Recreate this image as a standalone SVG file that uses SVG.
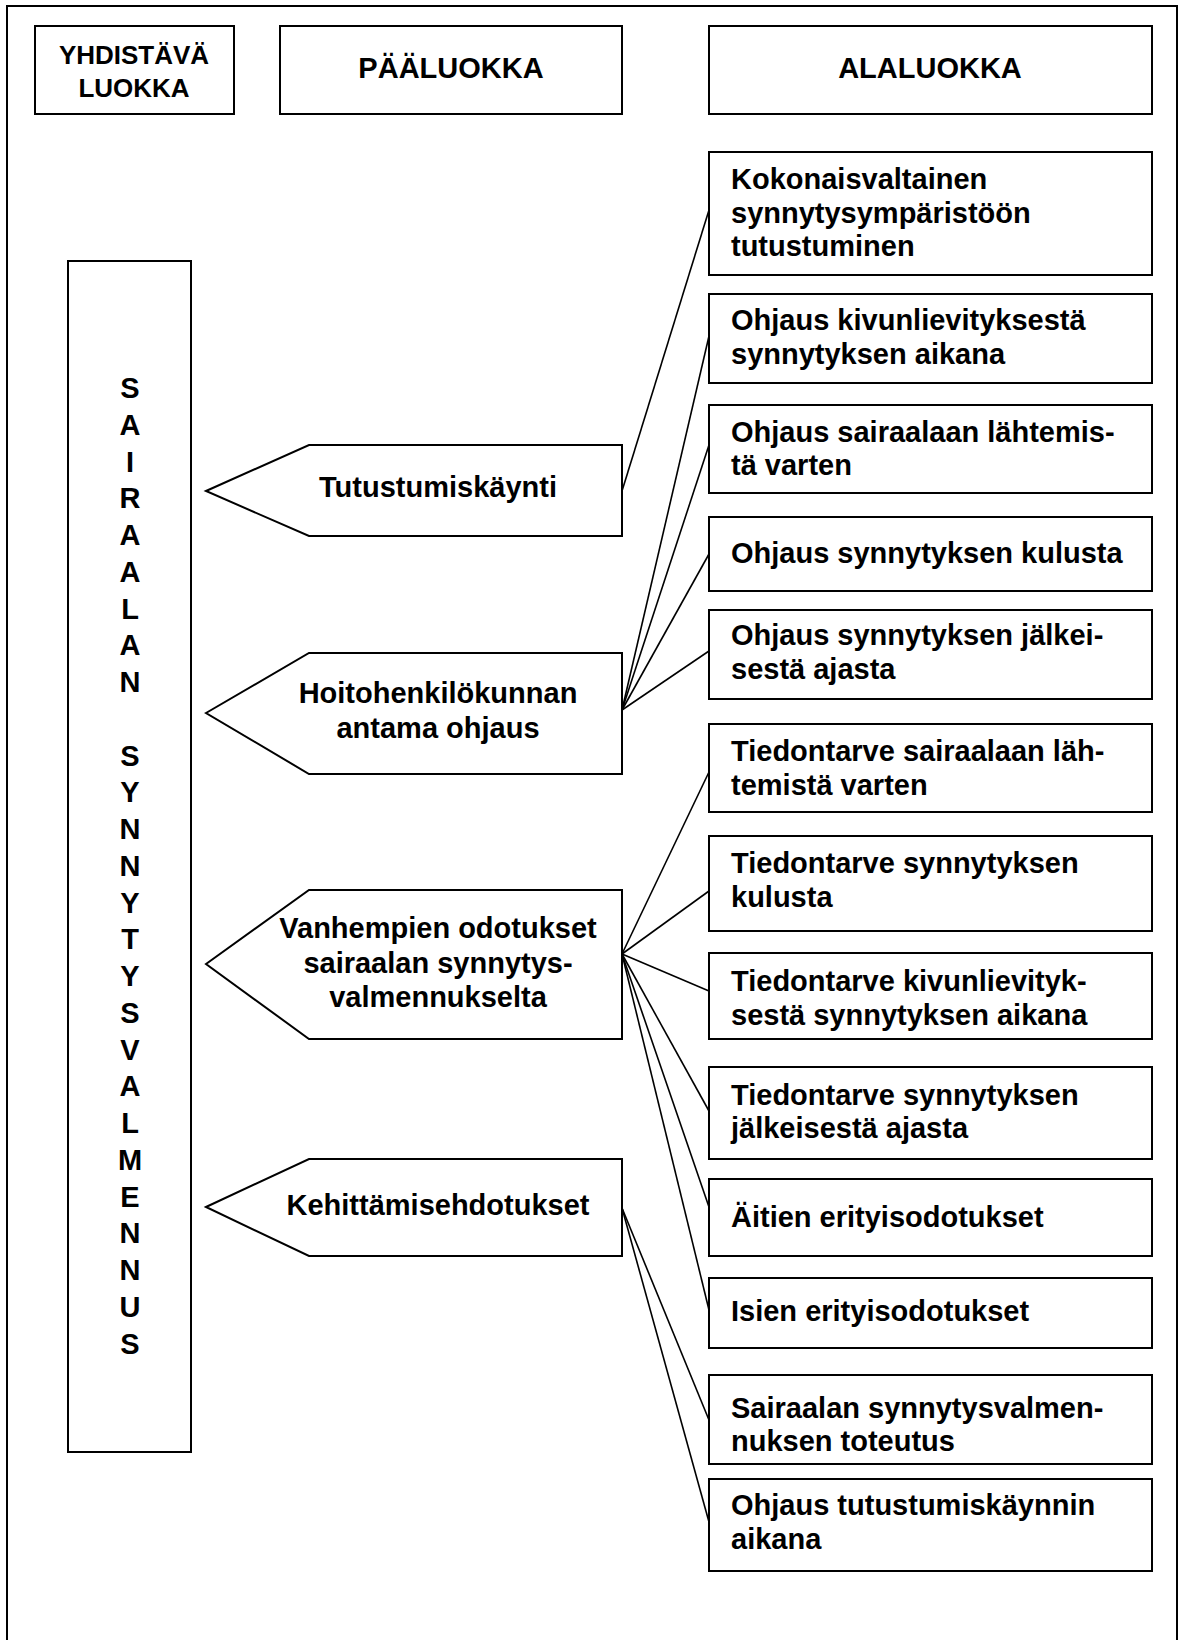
<svg xmlns="http://www.w3.org/2000/svg" width="1184" height="1640" viewBox="0 0 1184 1640">
<style>
.b{fill:#fff;stroke:#000;stroke-width:2}
.t{font-family:"Liberation Sans",Arial,sans-serif;font-weight:bold;font-size:29px;fill:#000}
.h{font-size:26px}
.m{text-anchor:middle}
.c{stroke:#000;stroke-width:1.6;fill:none}
</style>
<rect width="1184" height="1640" fill="#fff"/>
<path d="M7,1640 V6 H1177 V1640" fill="none" stroke="#000" stroke-width="2"/>
<g id="connectors">
<line class="c" x1="622" y1="491" x2="709" y2="210"/>
<line class="c" x1="622" y1="710" x2="709" y2="336"/>
<line class="c" x1="622" y1="710" x2="709" y2="445"/>
<line class="c" x1="622" y1="710" x2="709" y2="554"/>
<line class="c" x1="622" y1="710" x2="709" y2="651"/>
<line class="c" x1="622" y1="954" x2="709" y2="772"/>
<line class="c" x1="622" y1="954" x2="709" y2="891"/>
<line class="c" x1="622" y1="954" x2="709" y2="991"/>
<line class="c" x1="622" y1="954" x2="709" y2="1111"/>
<line class="c" x1="622" y1="954" x2="709" y2="1207"/>
<line class="c" x1="622" y1="954" x2="709" y2="1310"/>
<line class="c" x1="622" y1="1208" x2="709" y2="1420"/>
<line class="c" x1="622" y1="1208" x2="709" y2="1522"/>
</g>
<g id="h-yhdistava"><rect class="b" x="35" y="26" width="199" height="88"/><text class="t h m" x="134" y="64">YHDISTÄVÄ</text><text class="t h m" x="134" y="97">LUOKKA</text></g>
<g id="h-paaluokka"><rect class="b" x="280" y="26" width="342" height="88"/><text class="t m" x="451" y="78">PÄÄLUOKKA</text></g>
<g id="h-alaluokka"><rect class="b" x="709" y="26" width="443" height="88"/><text class="t m" x="930" y="78">ALALUOKKA</text></g>
<g id="yhdistava">
<rect class="b" x="68" y="261" width="123" height="1191"/>
<text class="t m" x="130"><tspan x="130" y="398">S</tspan><tspan x="130" y="435">A</tspan><tspan x="130" y="472">I</tspan><tspan x="130" y="508">R</tspan><tspan x="130" y="545">A</tspan><tspan x="130" y="582">A</tspan><tspan x="130" y="619">L</tspan><tspan x="130" y="655">A</tspan><tspan x="130" y="692">N</tspan><tspan x="130" y="766">S</tspan><tspan x="130" y="802">Y</tspan><tspan x="130" y="839">N</tspan><tspan x="130" y="876">N</tspan><tspan x="130" y="913">Y</tspan><tspan x="130" y="949">T</tspan><tspan x="130" y="986">Y</tspan><tspan x="130" y="1023">S</tspan><tspan x="130" y="1060">V</tspan><tspan x="130" y="1096">A</tspan><tspan x="130" y="1133">L</tspan><tspan x="130" y="1170">M</tspan><tspan x="130" y="1207">E</tspan><tspan x="130" y="1243">N</tspan><tspan x="130" y="1280">N</tspan><tspan x="130" y="1317">U</tspan><tspan x="130" y="1354">S</tspan></text>
</g>
<g id="p1"><polygon class="b" points="206,491 309,445 622,445 622,536 309,536"/><text class="t m" x="438" y="497">Tutustumiskäynti</text></g>
<g id="p2"><polygon class="b" points="206,713 309,653 622,653 622,774 309,774"/><text class="t m" x="438" y="703">Hoitohenkilökunnan</text><text class="t m" x="438" y="738">antama ohjaus</text></g>
<g id="p3"><polygon class="b" points="206,964 309,890 622,890 622,1039 309,1039"/><text class="t m" x="438" y="938">Vanhempien odotukset</text><text class="t m" x="438" y="973">sairaalan synnytys-</text><text class="t m" x="438" y="1007">valmennukselta</text></g>
<g id="p4"><polygon class="b" points="206,1207 309,1159 622,1159 622,1256 309,1256"/><text class="t m" x="438" y="1215">Kehittämisehdotukset</text></g>
<g id="a1"><rect class="b" x="709" y="152" width="443" height="123"/><text class="t" x="731" y="189">Kokonaisvaltainen</text><text class="t" x="731" y="223">synnytysympäristöön</text><text class="t" x="731" y="256">tutustuminen</text></g>
<g id="a2"><rect class="b" x="709" y="294" width="443" height="89"/><text class="t" x="731" y="330">Ohjaus kivunlievityksestä</text><text class="t" x="731" y="364">synnytyksen aikana</text></g>
<g id="a3"><rect class="b" x="709" y="405" width="443" height="88"/><text class="t" x="731" y="442">Ohjaus sairaalaan lähtemis-</text><text class="t" x="731" y="475">tä varten</text></g>
<g id="a4"><rect class="b" x="709" y="517" width="443" height="74"/><text class="t" x="731" y="563">Ohjaus synnytyksen kulusta</text></g>
<g id="a5"><rect class="b" x="709" y="610" width="443" height="89"/><text class="t" x="731" y="645">Ohjaus synnytyksen jälkei-</text><text class="t" x="731" y="679">sestä ajasta</text></g>
<g id="a6"><rect class="b" x="709" y="724" width="443" height="88"/><text class="t" x="731" y="761">Tiedontarve sairaalaan läh-</text><text class="t" x="731" y="795">temistä varten</text></g>
<g id="a7"><rect class="b" x="709" y="836" width="443" height="95"/><text class="t" x="731" y="873">Tiedontarve synnytyksen</text><text class="t" x="731" y="907">kulusta</text></g>
<g id="a8"><rect class="b" x="709" y="953" width="443" height="86"/><text class="t" x="731" y="991">Tiedontarve kivunlievityk-</text><text class="t" x="731" y="1025">sestä synnytyksen aikana</text></g>
<g id="a9"><rect class="b" x="709" y="1067" width="443" height="92"/><text class="t" x="731" y="1105">Tiedontarve synnytyksen</text><text class="t" x="731" y="1138">jälkeisestä ajasta</text></g>
<g id="a10"><rect class="b" x="709" y="1179" width="443" height="77"/><text class="t" x="731" y="1227">Äitien erityisodotukset</text></g>
<g id="a11"><rect class="b" x="709" y="1278" width="443" height="70"/><text class="t" x="731" y="1321">Isien erityisodotukset</text></g>
<g id="a12"><rect class="b" x="709" y="1375" width="443" height="89"/><text class="t" x="731" y="1418">Sairaalan synnytysvalmen-</text><text class="t" x="731" y="1451">nuksen toteutus</text></g>
<g id="a13"><rect class="b" x="709" y="1479" width="443" height="92"/><text class="t" x="731" y="1515">Ohjaus tutustumiskäynnin</text><text class="t" x="731" y="1549">aikana</text></g>
</svg>
